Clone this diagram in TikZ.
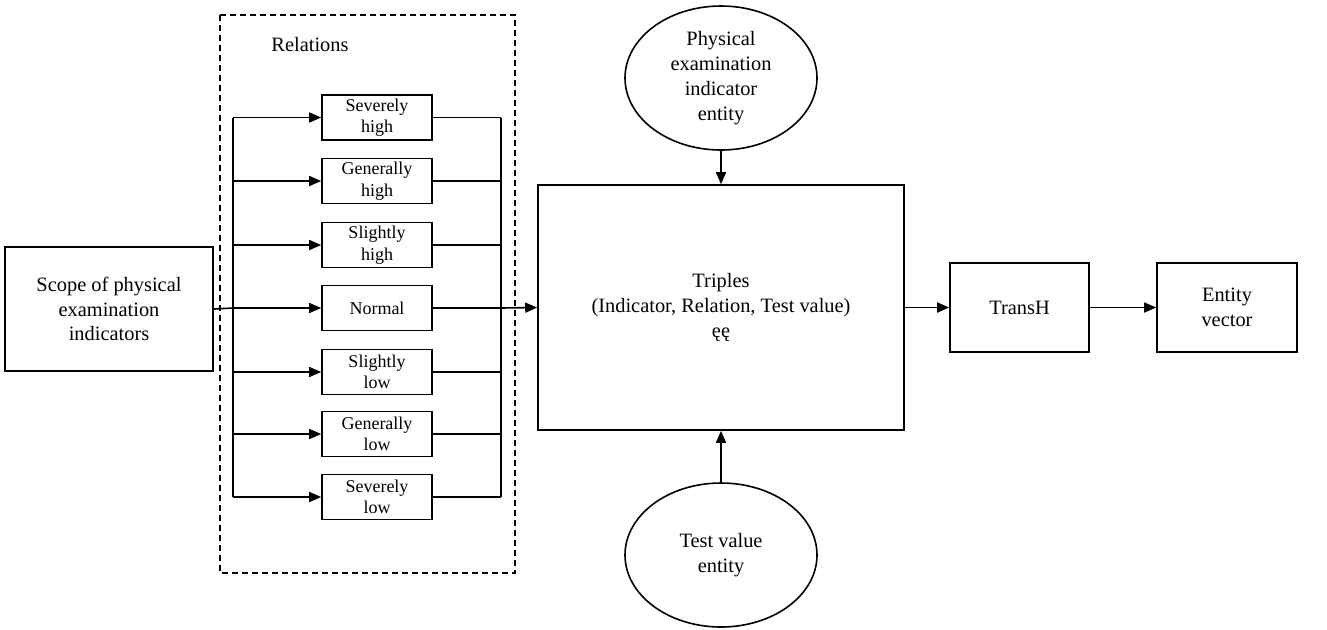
\documentclass[tikz,border=0pt]{standalone}
\usepackage{fontspec}
\setmainfont{Liberation Serif}
\usetikzlibrary{arrows.meta,shapes.geometric}

\begin{document}
\begin{tikzpicture}[
    x=0.5pt,y=-0.5pt,>={Triangle[length=6pt,width=5pt]},
    every node/.style={font=\fontsize{10.2}{12.4}\selectfont},
    box/.style={draw,thick,align=center,inner sep=0pt},
    relbox/.style={box,minimum width=55pt,minimum height=22.5pt,font=\fontsize{9}{10.8}\selectfont},
    blob/.style={draw,thick,ellipse,align=center,minimum width=96pt,minimum height=72pt,inner sep=0pt}]
    \useasboundingbox (0,0) rectangle (1327,629);

    % dashed frame of the relations
    \draw[thick,dash pattern=on 3pt off 2pt] (220,15) rectangle (515,573);
    \node (reltitle) at (310,45) {Relations};

    \node[box,minimum width=104pt,minimum height=62pt] (scope) at (109,309)
        {Scope of physical\\examination\\indicators};
    \node[box,minimum width=183pt,minimum height=122.5pt] (triples) at (721,307.5)
        {Triples\\(Indicator, Relation, Test value)\\ęę};
    \node[blob] (indicator) at (721,78) {Physical\\examination\\indicator\\entity};
    \node[blob] (testval) at (721,555) {Test value\\entity};
    \node[box,minimum width=69.5pt,minimum height=44.5pt] (transh) at (1019.5,307.5) {TransH};
    \node[box,minimum width=70pt,minimum height=44.5pt] (vector) at (1227,307.5) {Entity\\vector};

    \coordinate (busL) at (233,308);
    \coordinate (busR) at (501,308);

    \foreach \i/\txt/\yy in {1/{Severely\\high}/117.5,2/{Generally\\high}/181,
        3/{Slightly\\high}/245,4/{Normal}/308,5/{Slightly\\low}/372,
        6/{Generally\\low}/434,7/{Severely\\low}/497} {
        \node[relbox] (rel\i) at (377,\yy) {\txt};
        \draw[thick,->] (busL |- rel\i.west) -- (rel\i.west);
        \draw[thick] (rel\i.east) -- (busR |- rel\i.east);
    }

    % buses
    \draw[thick] (busL |- rel1.west) -- (busL |- rel7.west);
    \draw[thick] (busR |- rel1.east) -- (busR |- rel7.east);
    \draw[thick] (scope.east) -- (busL);
    \draw[thick,->] (busR) -- (triples.west);

    \draw[thick,->] (indicator.south) -- (triples.north);
    \draw[thick,->] (testval.north) -- (triples.south);
    \draw[thick,->] (triples.east) -- (transh.west);
    \draw[thick,->] (transh.east) -- (vector.west);
\end{tikzpicture}
\end{document}
